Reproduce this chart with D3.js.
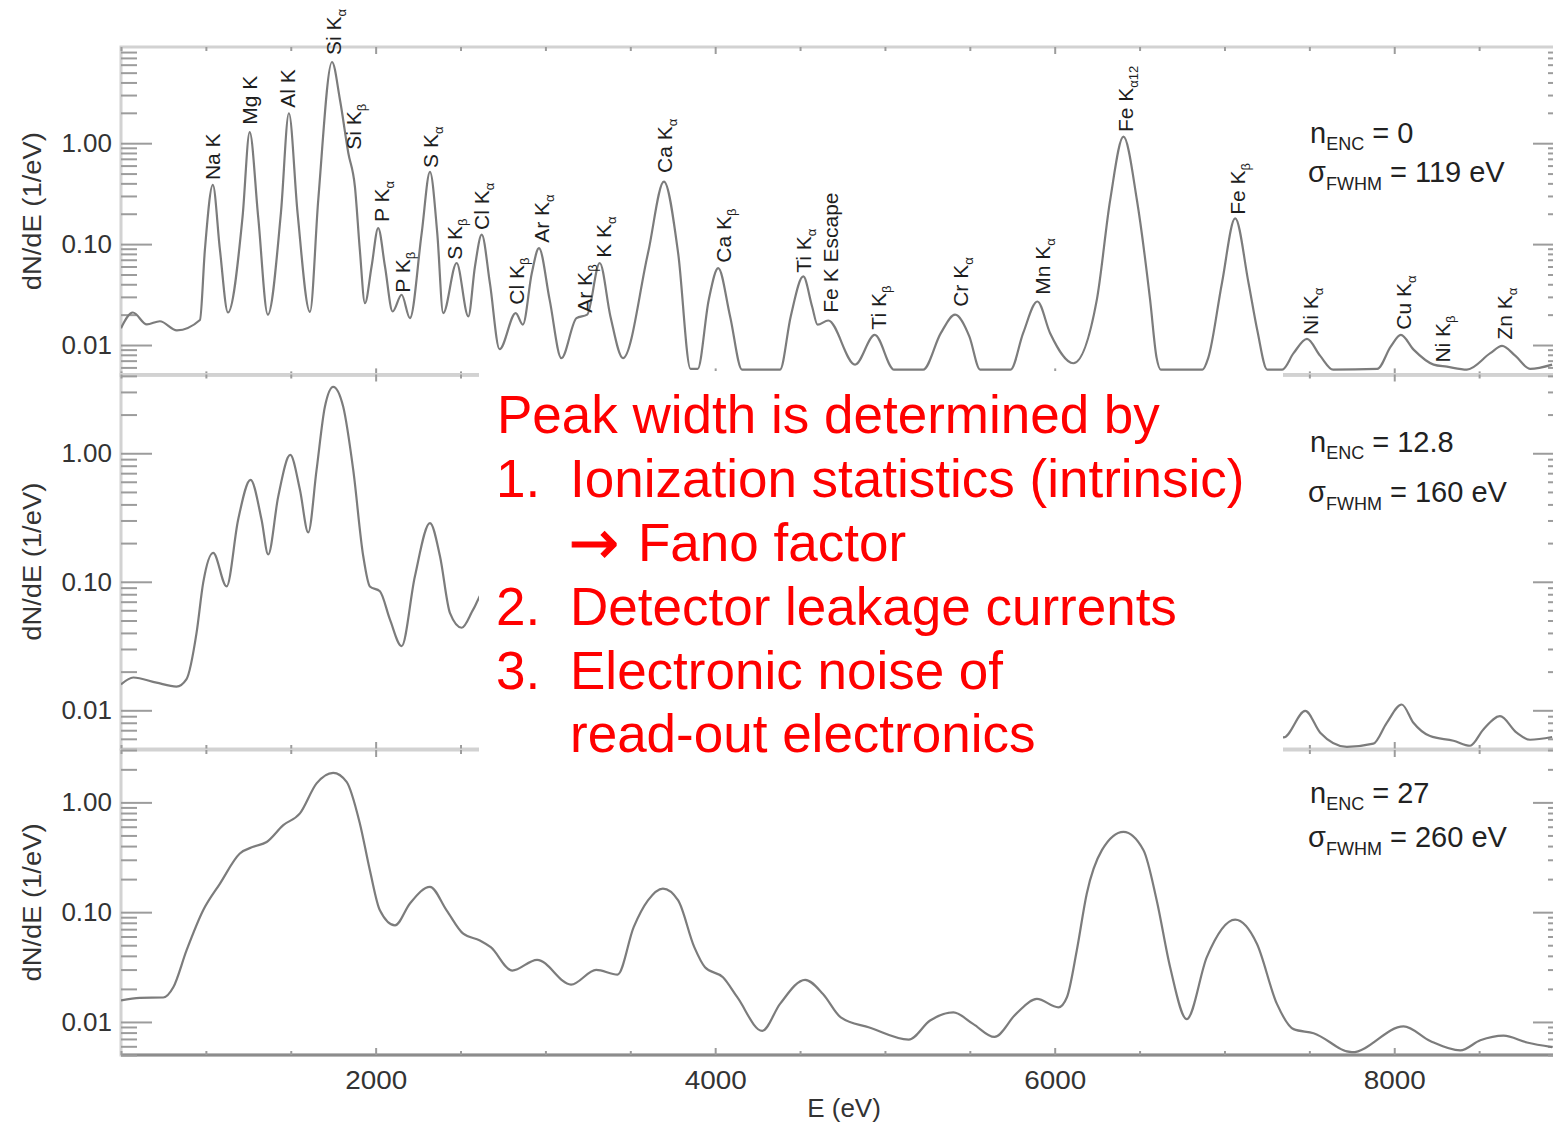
<!DOCTYPE html>
<html><head><meta charset="utf-8">
<script src="https://cdn.jsdelivr.net/npm/d3@7"></script>
<style>
body{margin:0;background:#fff;}
svg{display:block;font-family:"Liberation Sans",Arial,sans-serif;}
</style></head><body>
<svg id="c" width="1553" height="1126"></svg>
<script>
// ---------------- DATA ----------------
const energyDomain = [500, 9000];
const xMajorTicks = [2000, 4000, 6000, 8000];
const xMajorLabels = ["2000", "4000", "6000", "8000"];
const xMinorTicks = [500,1000,1500,2500,3000,3500,4500,5000,5500,6500,7000,7500,8500];
const yTickValues = [0.01, 0.1, 1];
const yTickLabels = ["0.01", "0.10", "1.00"];
const xTitle = "E (eV)";
const yTitle = "dN/dE (1/eV)";

// Panel 1: n_ENC = 0, FWHM 119 eV  [E (eV), dN/dE]
const spectrumEnc0 = [[500,0.0147],[570,0.021],[652,0.016],[729,0.0172],[829,0.014],[965,0.0177],[994,0.087],[1041,0.386],[1083,0.087],[1130,0.021],[1216,0.186],[1258,1.29],[1308,0.186],[1365,0.020],[1442,0.204],[1489,1.98],[1540,0.204],[1613,0.0213],[1662,0.275],[1743,6.38],[1790,2.68],[1839,0.80],[1878,0.37],[1907,0.087],[1937,0.026],[1976,0.06],[2015,0.144],[2055,0.06],[2100,0.0215],[2153,0.0315],[2202,0.0185],[2271,0.128],[2320,0.52],[2363,0.128],[2398,0.0207],[2477,0.065],[2546,0.0192],[2585,0.06],[2625,0.124],[2673,0.041],[2730,0.0091],[2825,0.0207],[2867,0.0159],[2920,0.0516],[2962,0.0912],[3025,0.028],[3094,0.0074],[3183,0.0185],[3246,0.02],[3320,0.065],[3383,0.0192],[3457,0.0074],[3604,0.081],[3698,0.417],[3782,0.081],[3855,0.0058],[3897,0.0058],[3962,0.028],[4018,0.0578],[4088,0.0192],[4158,0.0057],[4382,0.0057],[4445,0.0192],[4519,0.0478],[4571,0.0241],[4603,0.0159],[4666,0.0175],[4824,0.0064],[4940,0.0126],[5054,0.0057],[5225,0.0057],[5329,0.0131],[5413,0.02],[5497,0.0122],[5561,0.0057],[5740,0.0057],[5814,0.0131],[5898,0.027],[5973,0.0131],[6110,0.0066],[6248,0.028],[6327,0.275],[6405,1.16],[6484,0.275],[6562,0.028],[6600,0.0075],[6625,0.0057],[6870,0.0057],[6905,0.0075],[6985,0.041],[7063,0.18],[7142,0.041],[7193,0.0141],[7252,0.0057],[7340,0.0057],[7407,0.0083],[7486,0.0115],[7564,0.0078],[7640,0.0057],[7900,0.0058],[7980,0.0097],[8039,0.0126],[8114,0.009],[8232,0.0064],[8310,0.0061],[8428,0.0057],[8566,0.0083],[8635,0.0098],[8714,0.0078],[8801,0.0058],[8930,0.0064]];

// Panel 2: n_ENC = 12.8, FWHM 160 eV (middle part hidden by the text box)
const spectrumEnc12 = [[500,0.0159],[572,0.018],[709,0.0164],[827,0.0153],[886,0.0175],[945,0.040],[984,0.098],[1043,0.168],[1122,0.092],[1190,0.304],[1263,0.621],[1328,0.304],[1367,0.163],[1426,0.46],[1497,0.97],[1554,0.52],[1603,0.242],[1652,0.742],[1701,2.3],[1750,3.29],[1809,2.3],[1868,0.742],[1927,0.158],[1966,0.092],[2025,0.0844],[2084,0.051],[2153,0.0316],[2231,0.11],[2320,0.286],[2379,0.158],[2438,0.057],[2507,0.0439],[2575,0.061],[2640,0.085],[7300,0.0068],[7348,0.00615],[7476,0.0099],[7564,0.0067],[7721,0.0052],[7877,0.0055],[7956,0.008],[8044,0.0111],[8113,0.008],[8211,0.0063],[8349,0.0058],[8447,0.0053],[8525,0.0071],[8623,0.009],[8721,0.0067],[8800,0.0059],[8930,0.0062]];

// Panel 3: n_ENC = 27, FWHM 260 eV
const spectrumEnc27 = [[500,0.0157],[611,0.0166],[749,0.0167],[808,0.0207],[886,0.0448],[984,0.104],[1083,0.182],[1200,0.342],[1279,0.394],[1358,0.436],[1456,0.621],[1554,0.794],[1652,1.49],[1750,1.86],[1829,1.54],[1907,0.643],[1966,0.241],[2025,0.104],[2114,0.0758],[2202,0.12],[2320,0.17],[2418,0.104],[2516,0.0637],[2614,0.0553],[2678,0.048],[2804,0.0294],[2951,0.0368],[3151,0.0219],[3299,0.0298],[3425,0.027],[3520,0.073],[3604,0.128],[3692,0.164],[3782,0.128],[3877,0.048],[3940,0.0315],[4046,0.0255],[4130,0.0168],[4277,0.0083],[4382,0.0146],[4530,0.0242],[4635,0.018],[4740,0.011],[4908,0.0089],[5140,0.0069],[5266,0.0103],[5403,0.0122],[5519,0.0096],[5645,0.0073],[5771,0.0118],[5895,0.0162],[6022,0.0136],[6072,0.0168],[6130,0.0448],[6189,0.148],[6278,0.367],[6405,0.539],[6523,0.367],[6601,0.128],[6680,0.0315],[6778,0.0106],[6896,0.0389],[7063,0.0855],[7191,0.0516],[7309,0.0146],[7407,0.0086],[7525,0.0079],[7751,0.0053],[8055,0.0091],[8212,0.0067],[8389,0.0055],[8507,0.0068],[8644,0.0075],[8782,0.0065],[8930,0.0059]];

// Peak labels (panel 1): name, subscript, energy, dN/dE where the label starts
const peakNames = ["Na K","Mg K","Al K","Si K","Si K","P K","P K","S K","S K","Cl K","Cl K","Ar K","Ar K","K K","Ca K","Ca K","Ti K","Fe K Escape","Ti K","Cr K","Mn K","Fe K","Fe K","Ni K","Cu K","Ni K","Zn K"];
const peakSubs  = ["","","","α","β","α","β","α","β","α","β","α","β","α","α","β","α","","β","α","α","α12","β","α","α","β","α"];
const peakEnergies = [1041,1259,1483,1749,1867,2037,2155,2320,2467,2626,2827,2974,3228,3340,3699,4047,4518,4677,4960,5444,5927,6416,7076,7505,8053,8283,8651];
const peakLabelLevels = [0.431,1.52,2.24,7.48,0.86,0.166,0.033,0.569,0.07,0.138,0.0251,0.103,0.0209,0.0731,0.508,0.0653,0.052,0.0209,0.0142,0.0239,0.0315,1.29,0.195,0.0126,0.0142,0.0067,0.0113];

const encValues = ["0", "12.8", "27"];
const fwhmValues = ["119", "160", "260"];

const noteNumbers = ["", "1.", "", "2.", "3.", ""];
const noteTexts = ["Peak width is determined by", "Ionization statistics (intrinsic)", "Fano factor", "Detector leakage currents", "Electronic noise of", "read-out electronics"];
const noteArrow = "→";

// ---------------- DRAW ----------------
const svg = d3.select("#c");
const X0 = 121, X1 = 1564;
const x = d3.scaleLinear().domain(energyDomain).range([X0, X1]);

const panelLayout = [
  {data: spectrumEnc0,  dom:[0.005, 8.98], top:47,    bottom:375.4, ann:[143,182], sub:[7,8]},
  {data: spectrumEnc12, dom:[0.005, 4.1],  top:374.5, bottom:749,   ann:[452,502], sub:[7,8]},
  {data: spectrumEnc27, dom:[0.005, 3.0],  top:750,   bottom:1055,  ann:[803,847], sub:[7,8]}
];

const frameColor = "#d2d2d2", tickColor = "#9c9c9c";

panelLayout.forEach((p, i) => {
  const y = d3.scaleLog().domain(p.dom).range([p.bottom, p.top]);
  const g = svg.append("g");
  const minorY = y.ticks().filter(t => !yTickValues.some(m => Math.abs(m - t) / m < 1e-6));

  // frame
  g.append("rect").attr("x", X0).attr("y", p.top).attr("width", X1 - X0).attr("height", p.bottom - p.top)
    .attr("fill", "none").attr("stroke", frameColor).attr("stroke-width", 3);
  if (i === 2) {
    g.append("line").attr("x1", X0).attr("x2", X1).attr("y1", p.bottom).attr("y2", p.bottom)
      .attr("stroke", "#8c8c8c").attr("stroke-width", 3);
  }

  const styleAxis = sel => {
    sel.select(".domain").remove();
    sel.selectAll(".tick line").attr("stroke", tickColor).attr("stroke-width", 2);
    sel.selectAll(".tick text").attr("fill", "#333").attr("font-size", 26)
      .attr("font-family", "Liberation Sans, Arial, sans-serif");
  };

  // left axis
  g.append("g").attr("transform", `translate(${X0},0)`)
    .call(d3.axisLeft(y).tickValues(yTickValues).tickFormat((d, k) => yTickLabels[k]).tickSizeInner(-31).tickSizeOuter(0).tickPadding(9))
    .call(styleAxis);
  g.append("g").attr("transform", `translate(${X0},0)`)
    .call(d3.axisLeft(y).tickValues(minorY).tickFormat("").tickSizeInner(-16).tickSizeOuter(0))
    .call(styleAxis);
  // right axis
  g.append("g").attr("transform", `translate(${X1},0)`)
    .call(d3.axisRight(y).tickValues(yTickValues).tickFormat("").tickSizeInner(-31).tickSizeOuter(0))
    .call(styleAxis);
  g.append("g").attr("transform", `translate(${X1},0)`)
    .call(d3.axisRight(y).tickValues(minorY).tickFormat("").tickSizeInner(-16).tickSizeOuter(0))
    .call(styleAxis);
  // top / bottom
  g.append("g").attr("transform", `translate(0,${p.top})`)
    .call(d3.axisTop(x).tickValues(xMajorTicks).tickFormat("").tickSizeInner(-7).tickSizeOuter(0)).call(styleAxis);
  g.append("g").attr("transform", `translate(0,${p.top})`)
    .call(d3.axisTop(x).tickValues(xMinorTicks).tickFormat("").tickSizeInner(-4).tickSizeOuter(0)).call(styleAxis);
  const bot = g.append("g").attr("transform", `translate(0,${p.bottom})`)
    .call(d3.axisBottom(x).tickValues(xMajorTicks).tickFormat(i === 2 ? ((d, k) => xMajorLabels[k]) : "").tickSizeInner(-7).tickSizeOuter(0).tickPadding(16))
    .call(styleAxis);
  if (i === 2) bot.selectAll(".tick text").attr("textLength", 62).attr("lengthAdjust", "spacingAndGlyphs");
  g.append("g").attr("transform", `translate(0,${p.bottom})`)
    .call(d3.axisBottom(x).tickValues(xMinorTicks).tickFormat("").tickSizeInner(-4).tickSizeOuter(0)).call(styleAxis);

  // y title
  g.append("text").attr("transform", `translate(32,${(p.top + p.bottom) / 2}) rotate(-90)`)
    .attr("text-anchor", "middle").attr("dy", "0.35em").attr("font-size", 25).attr("fill", "#333")
    .attr("textLength", 158).attr("lengthAdjust", "spacingAndGlyphs").text(yTitle);

  // curve
  const clipId = "clip" + i;
  svg.append("clipPath").attr("id", clipId).append("rect")
    .attr("x", X0).attr("y", p.top).attr("width", X1 - X0).attr("height", p.bottom - p.top);
  const line = d3.line().x(d => x(d[0])).y(d => y(d[1])).curve(d3.curveMonotoneX);
  g.append("path").attr("d", line(p.data)).attr("fill", "none").attr("stroke", "#7c7c7c")
    .attr("stroke-width", 2.2).attr("clip-path", `url(#${clipId})`);

  // peak labels (panel 1)
  if (i === 0) {
    peakNames.forEach((nm, k) => {
      const t = g.append("text")
        .attr("transform", `translate(${x(peakEnergies[k])},${y(peakLabelLevels[k])}) rotate(-90)`)
        .attr("dy", "0.36em").attr("font-size", 21).attr("fill", "#1e1e1e");
      t.append("tspan").text(nm);
      if (peakSubs[k]) t.append("tspan").attr("font-size", 13).attr("dy", 5).text(peakSubs[k]);
    });
  }

  // ENC annotation
  const a1 = g.append("text").attr("x", 1310).attr("y", p.ann[0]).attr("font-size", 29).attr("fill", "#222");
  a1.append("tspan").text("n");
  a1.append("tspan").attr("font-size", 18).attr("dy", p.sub[0]).text("ENC");
  a1.append("tspan").attr("dy", -p.sub[0]).text(" = " + encValues[i]);
  const a2 = g.append("text").attr("x", 1308).attr("y", p.ann[1]).attr("font-size", 29).attr("fill", "#222");
  a2.append("tspan").text("σ");
  a2.append("tspan").attr("font-size", 18).attr("dy", p.sub[1]).text("FWHM");
  a2.append("tspan").attr("dy", -p.sub[1]).text(" = " + fwhmValues[i] + " eV");
});

// x title
svg.append("text").attr("x", 844).attr("y", 1117).attr("text-anchor", "middle")
  .attr("font-size", 26).attr("fill", "#333").text(xTitle);

// white note box
svg.append("rect").attr("x", 479).attr("y", 371).attr("width", 804).attr("height", 388).attr("fill", "#fff");

const baselines = [433, 497, 561, 625, 689, 752];
const note = svg.append("g").attr("fill", "#ff0000").attr("font-size", 53);
noteTexts.forEach((t, k) => {
  if (k === 0) {
    note.append("text").attr("x", 497).attr("y", baselines[k]).text(t);
    return;
  }
  if (noteNumbers[k]) note.append("text").attr("x", 496).attr("y", baselines[k]).text(noteNumbers[k]);
  if (k === 2) {
    note.append("text").attr("x", 569).attr("y", baselines[k] + 2).attr("font-family", "DejaVu Sans")
      .attr("font-size", 60).attr("stroke", "#ff0000").attr("stroke-width", 1).text(noteArrow);
    note.append("text").attr("x", 638).attr("y", baselines[k]).text(t);
  } else {
    note.append("text").attr("x", 570).attr("y", baselines[k]).text(t);
  }
});
</script>
</body></html>
